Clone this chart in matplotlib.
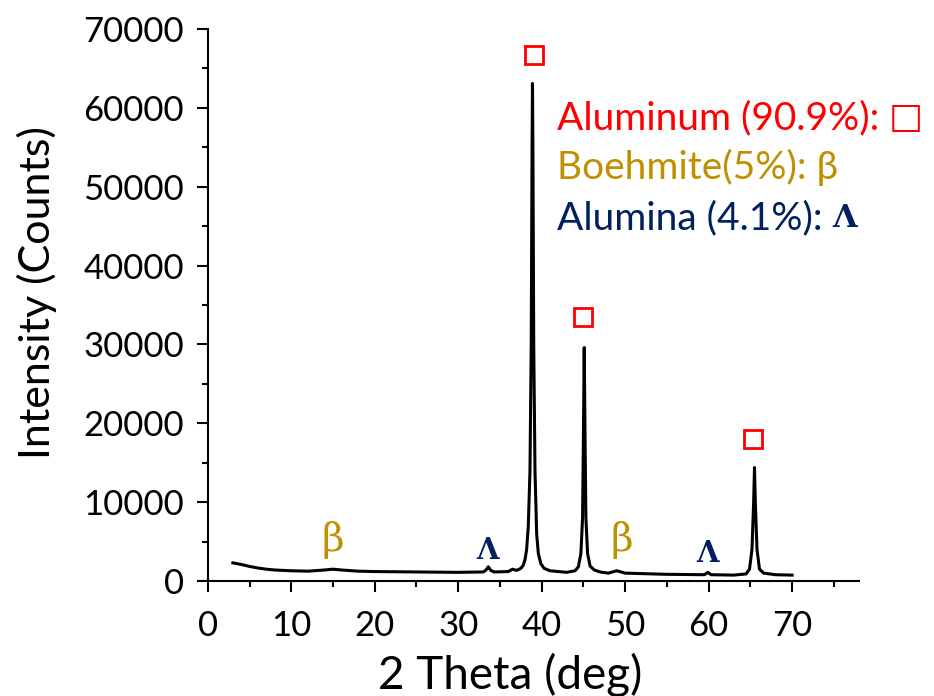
import matplotlib
matplotlib.use("Agg")
import matplotlib.pyplot as plt
from matplotlib.ticker import MultipleLocator

# ---- data ----
two_theta = [3.0, 4.0, 5.0, 6.0, 7.0, 8.0, 10.0, 12.0, 14.0, 15.0, 16.0, 18.0,
             20.0, 25.0, 30.0, 33.0, 33.3, 33.6, 33.9, 34.3, 36.0, 36.5, 37.0,
             37.5, 37.8, 38.0, 38.2, 38.4, 38.6, 38.75, 38.85, 38.9, 38.95, 39.05,
             39.2, 39.4, 39.6, 39.9, 40.3, 41.0, 43.0, 44.0, 44.4, 44.7, 44.9,
             45.0, 45.1, 45.2, 45.3, 45.5, 45.8, 46.3, 47.0, 48.0, 49.0, 50.0,
             55.0, 59.5, 59.9, 60.3, 63.0, 64.5, 64.9, 65.2, 65.4, 65.5, 65.6,
             65.8, 66.1, 66.6, 68.0, 70.0]
intensity = [2300, 2100, 1850, 1650, 1500, 1400, 1300, 1250, 1400, 1500, 1400, 1250,
             1200, 1150, 1100, 1150, 1350, 1800, 1350, 1150, 1200, 1500, 1350,
             1600, 2000, 2700, 4000, 7000, 14000, 30000, 55000, 63100, 55000, 30000,
             14000, 6000, 3500, 2200, 1600, 1300, 1100, 1300, 1800, 3500, 8000,
             18000, 29600, 18000, 8000, 3500, 1900, 1400, 1150, 1000, 1300, 1000,
             850, 800, 1100, 800, 750, 900, 1500, 4000, 10000, 14400, 10000,
             4000, 1500, 1000, 800, 750]

al_peaks_x = [39.05, 44.9, 65.3]
al_peaks_y = [66700, 33500, 18000]
boehmite_x = [15.0, 49.6]
boehmite_y = [5200, 5200]
alumina_x = [33.5, 59.9]
alumina_y = [3900, 3550]

legend_lines = ["Aluminum (90.9%): ", "Boehmite(5%): \u03B2", "Alumina (4.1%): "]
legend_colors = ["#FF0000", "#BF9000", "#002060"]

x_ticks = [0, 10, 20, 30, 40, 50, 60, 70]
y_ticks = [0, 10000, 20000, 30000, 40000, 50000, 60000, 70000]

RED, GOLD, NAVY = "#FF0000", "#BF9000", "#002060"
FONT = ["Lato", "DejaVu Sans"]
plt.rcParams["font.family"] = FONT

fig = plt.figure(figsize=(9.34, 6.96), dpi=100)
ax = fig.add_axes([0.2225, 0.1652, 0.9195 - 0.2225, 0.9583 - 0.1652])

ax.plot(two_theta, intensity, color="black", lw=2.2, solid_joinstyle="round")
ax.plot(al_peaks_x, al_peaks_y, ls="none", marker="s", ms=12.5, mfc="none",
        mec=RED, mew=2.0)
for x, y in zip(boehmite_x, boehmite_y):
    ax.text(x, y, "\u03B2", color=GOLD, fontsize=28, ha="center", va="center",
            family=["DejaVu Serif"])
for x, y in zip(alumina_x, alumina_y):
    ax.text(x, y, "\u039B", color=NAVY, fontsize=21, ha="center", va="center",
            family=["DejaVu Serif"], fontweight="bold")

ax.set_xlim(0, 78)
ax.set_ylim(0, 70000)
ax.set_xticks(x_ticks)
ax.set_yticks(y_ticks)
ax.set_xticklabels([str(v) for v in x_ticks])
ax.set_yticklabels([str(v) for v in y_ticks])
ax.xaxis.set_minor_locator(MultipleLocator(5))
ax.yaxis.set_minor_locator(MultipleLocator(5000))
ax.tick_params(which="major", direction="out", length=8, width=1.5,
               labelsize=25, pad=9)
ax.tick_params(axis="x", which="major", pad=13)
ax.tick_params(which="minor", direction="out", length=4, width=1.5)
for s in ["top", "right"]:
    ax.spines[s].set_visible(False)
for s in ["left", "bottom"]:
    ax.spines[s].set_linewidth(1.5)

ax.set_xlabel("2 Theta (deg)", fontsize=33)
ax.xaxis.set_label_coords(0.464, -0.13)
ax.set_ylabel("Intensity (Counts)", fontsize=31)
ax.yaxis.set_label_coords(-0.232, 0.523)

# legend-like text block
leg_y = [58700, 52500, 46000]
leg_texts = []
for txt, col, y in zip(legend_lines, legend_colors, leg_y):
    leg_texts.append(ax.text(41.8, y, txt, color=col, fontsize=28,
                             ha="left", va="center"))
fig.canvas.draw()
r = fig.canvas.get_renderer()
inv = ax.transData.inverted()
x_al, _ = inv.transform((leg_texts[0].get_window_extent(renderer=r).x1, 0))
ax.text(x_al, leg_y[0], "\u25A1", color=RED, fontsize=26, ha="left", va="center",
        family=["DejaVu Sans"])
x_am, _ = inv.transform((leg_texts[2].get_window_extent(renderer=r).x1, 0))
ax.text(x_am, leg_y[2], "\u039B", color=NAVY, fontsize=23, ha="left", va="center",
        family=["DejaVu Serif"], fontweight="bold")

fig.savefig("out.png", dpi=100)
